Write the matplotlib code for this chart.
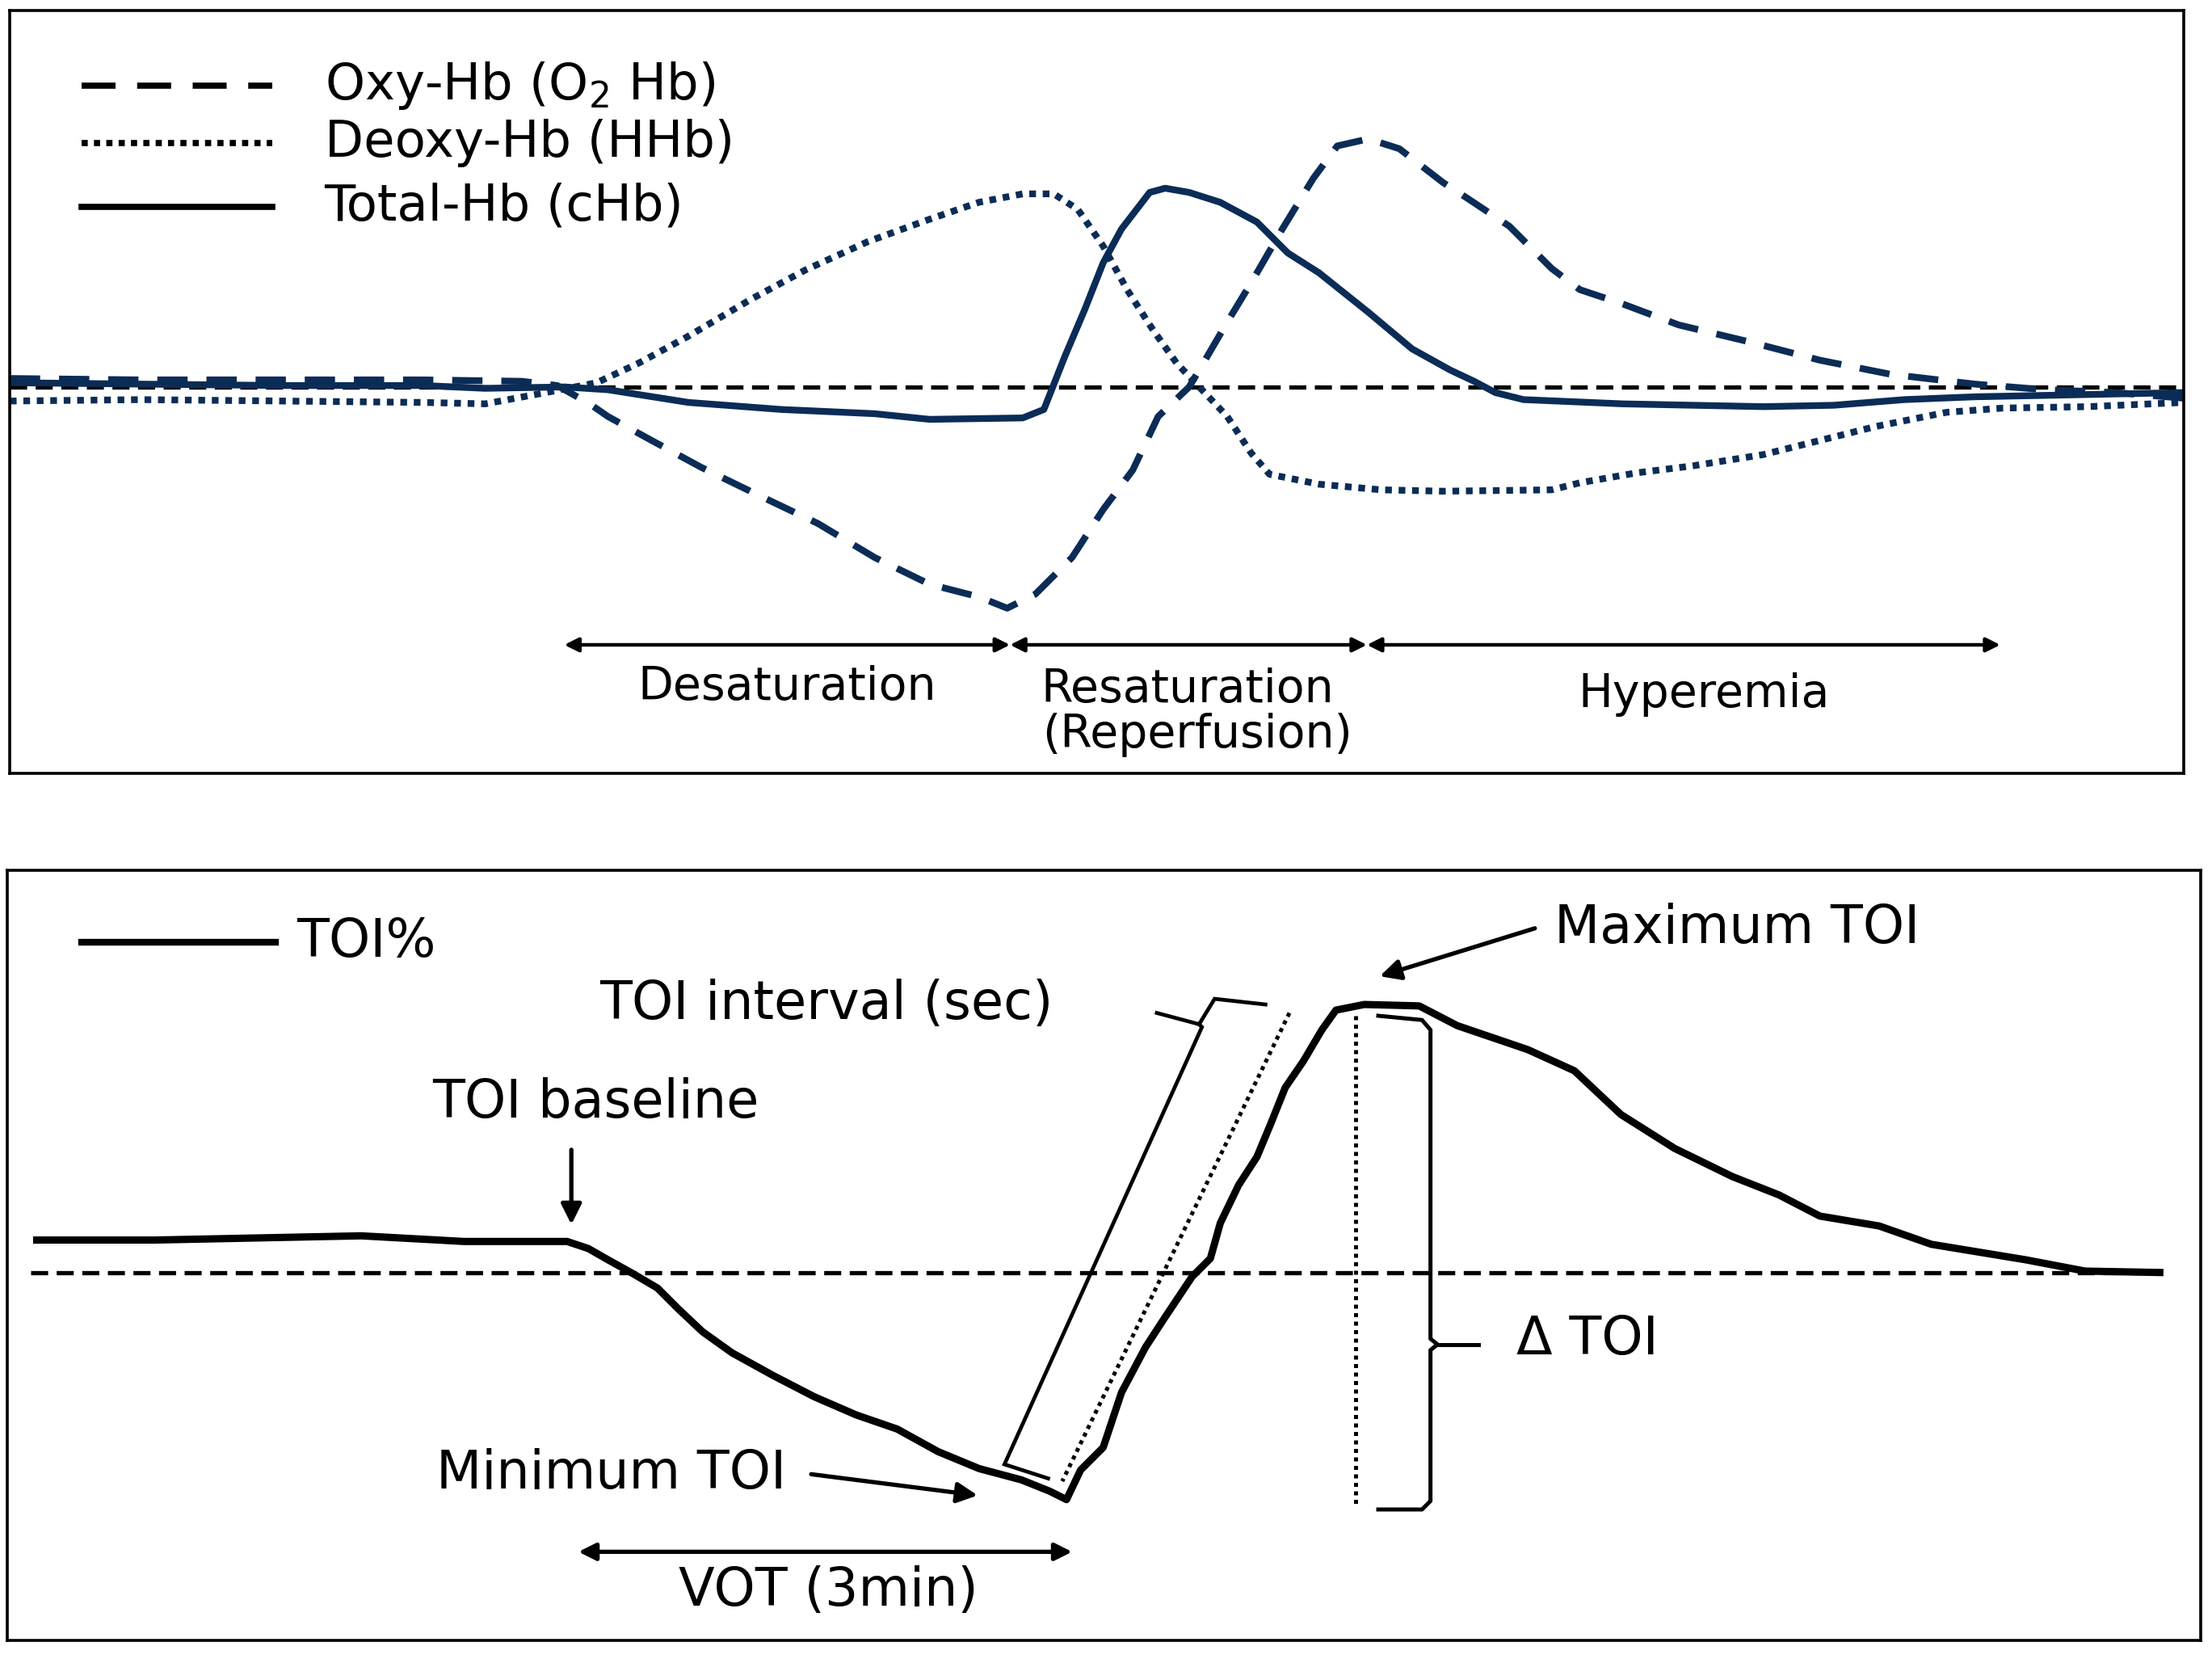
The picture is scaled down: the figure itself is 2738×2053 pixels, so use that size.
import matplotlib.pyplot as plt

plt.rcParams['font.family'] = ['DejaVu Sans']

NAVY = '#0b2c56'

# ---- top panel: haemoglobin signals (time in s, arbitrary units) ----
oxy_t = [3.5, 50, 100, 150, 185, 197.5, 209, 215.5, 231, 248.5, 268, 290, 310, 329.5, 347, 357,
         367, 380, 391, 401.5, 410.5, 421.5, 428, 435, 443.5, 454.5, 465.5, 474, 485, 496, 511.5,
         520, 535, 550, 560, 575, 595, 620, 645, 670, 700, 725, 750, 774]
oxy_v = [0.6, 0.5, 0.5, 0.5, 0.4, 0.1, -1.2, -2.1, -3.8, -5.7, -7.6, -9.7, -12.1, -14.0, -14.9, -15.7,
         -14.7, -12.1, -8.7, -5.9, -2.1, 0.0, 2.2, 4.6, 7.4, 11.2, 14.8, 17.1, 17.6, 16.9, 14.5,
         13.4, 11.4, 8.4, 6.9, 5.9, 4.4, 3.2, 1.9, 0.9, 0.2, -0.2, -0.4, -0.8]

deoxy_t = [3.5, 50, 100, 150, 172, 193.5, 211.5, 226.5, 244, 266, 285.5, 307.5, 329.5, 347, 362.5,
           373.5, 382, 391, 399.5, 408.5, 417, 426, 435, 443.5, 450, 467.5, 489.5, 511.5, 550, 560,
           580, 600, 625, 645, 665, 690, 710, 740, 774]
deoxy_v = [-1.0, -0.9, -1.0, -1.1, -1.2, -0.4, 0.3, 1.7, 3.6, 6.2, 8.3, 10.3, 11.9, 13.1, 13.7,
           13.7, 12.6, 10.0, 6.9, 4.1, 1.7, -0.2, -2.1, -4.7, -6.2, -6.9, -7.3, -7.4, -7.3, -6.8,
           -6.1, -5.6, -4.8, -3.8, -2.8, -1.8, -1.5, -1.4, -1.1]

total_t = [3.5, 50, 100, 150, 172, 200, 215.5, 244, 277, 310, 329.5, 362.5, 370, 377.5, 384.5, 391,
           397.5, 407.5, 413, 421.5, 432.5, 445.5, 456.5, 467.5, 485, 500.5, 514, 522.5, 530, 540,
           575, 625, 650, 675, 700, 725, 774]
total_v = [0.3, 0.2, 0.1, 0.1, -0.1, 0.0, -0.2, -1.1, -1.6, -1.9, -2.3, -2.2, -1.6, 2.2, 5.5, 8.8,
           11.2, 13.8, 14.1, 13.8, 13.1, 11.7, 9.5, 8.1, 5.3, 2.7, 1.2, 0.4, -0.4, -0.9,
           -1.2, -1.4, -1.3, -0.9, -0.7, -0.6, -0.4]

top_labels = ['Oxy-Hb (O$_2$ Hb)', 'Deoxy-Hb (HHb)', 'Total-Hb (cHb)']
phase_edges = [200, 358, 484.5, 709]

# ---- bottom panel: TOI % ----
toi_t = [13, 54.5, 128, 164.5, 201, 208.5, 215.5, 224.5, 233, 240.5, 249, 259.5, 274, 288.5, 303.5,
         318, 332.5, 347, 362, 372, 378, 383, 391, 397.5, 406, 412.5, 422.5, 429, 432.5, 439,
         445.5, 450.5, 455.5, 462, 468.5, 473.5, 483.5, 503, 516.5, 541.5, 558, 574.5, 593.5, 614,
         630.5, 645, 666, 684.5, 718, 739, 765.5]
toi_v = [72.3, 72.3, 72.6, 72.2, 72.2, 71.7, 70.9, 69.9, 68.9, 67.4, 65.8, 64.3, 62.7, 61.2, 59.9,
         58.9, 57.3, 56.1, 55.3, 54.5, 53.9, 56.0, 57.6, 61.5, 64.7, 66.7, 69.7, 71.0, 73.5, 76.2,
         78.2, 80.6, 83.1, 85.0, 87.2, 88.6, 89.0, 88.9, 87.5, 85.8, 84.3, 81.2, 78.8, 76.8,
         75.5, 74.0, 73.3, 72.0, 70.9, 70.1, 70.0]
toi_base = 70.0

fig = plt.figure(figsize=(27.38, 20.53), dpi=100)

# ================= top panel =================
ax1 = fig.add_axes([0.00446, 0.534, 0.98274, 0.45959])
ax1.set_xlim(3.5, 774)
ax1.set_ylim(-27.4, 26.7)
ax1.set_xticks([])
ax1.set_yticks([])
for s in ax1.spines.values():
    s.set_linewidth(2.6)

ax1.axhline(0, color='black', lw=3.8, dashes=(4, 2))
ax1.plot(oxy_t, oxy_v, color=NAVY, lw=6, dashes=(4.5, 2.8))
ax1.plot(deoxy_t, deoxy_v, color=NAVY, lw=6, dashes=(1, 1))
ax1.plot(total_t, total_v, color=NAVY, lw=6)

# legend drawn by hand
leg_y = [21.4, 17.3, 12.8]
leg_style = [dict(dashes=(5.5, 3.5)), dict(dashes=(1, 1)), dict()]
for y, lab, st in zip(leg_y, top_labels, leg_style):
    ax1.plot([29, 96.5], [y, y], color='black', lw=5.5, **st)
    ax1.text(115, y, lab, fontsize=45, va='center', ha='left')

for a, b in zip(phase_edges[:-1], phase_edges[1:]):
    ax1.annotate('', xy=(a, -18.3), xytext=(b, -18.3),
                 arrowprops=dict(arrowstyle='<|-|>', color='black', lw=3.2,
                                 mutation_scale=26, shrinkA=0, shrinkB=0))
ax1.text(279, -21.3, 'Desaturation', fontsize=41, ha='center', va='center')
ax1.text(421, -21.5, 'Resaturation', fontsize=41, ha='center', va='center')
ax1.text(424.5, -24.7, '(Reperfusion)', fontsize=41, ha='center', va='center')
ax1.text(604, -21.8, 'Hyperemia', fontsize=41, ha='center', va='center')

# ================= bottom panel =================
ax2 = fig.add_axes([0.0032, 0.01105, 0.9917, 0.46425])
ax2.set_xlim(2.5, 780)
ax2.set_ylim(43.9, 98.5)
ax2.set_xticks([])
ax2.set_yticks([])
for s in ax2.spines.values():
    s.set_linewidth(2.6)

ax2.plot([11, 766], [toi_base, toi_base], color='black', lw=3.8, dashes=(4, 2))
ax2.plot(toi_t, toi_v, color='black', lw=6.5, solid_joinstyle='round')

# legend
ax2.plot([29, 97.5], [93.4, 93.4], color='black', lw=6)
ax2.text(105, 93.4, 'TOI%', fontsize=47, va='center', ha='left')

# maximum TOI
ax2.text(551, 94.4, 'Maximum TOI', fontsize=47, va='center', ha='left')
ax2.annotate('', xy=(489, 91.0), xytext=(544, 94.4),
             arrowprops=dict(arrowstyle='-|>', color='black', lw=3.8,
                             mutation_scale=38, shrinkA=0, shrinkB=0))

# TOI interval bracket (tilted)
ax2.text(212.5, 89.0, 'TOI interval (sec)', fontsize=47, va='center', ha='left')
br_t = [371.5, 356, 426, 425, 430.5, 448.5]
br_v = [55.4, 56.4, 87.4, 87.6, 89.4, 89.0]
ax2.plot(br_t, br_v, color='black', lw=3.4, solid_joinstyle='miter')
ax2.plot([425, 410], [87.6, 88.4], color='black', lw=3.4)
ax2.plot([457, 376.5], [88.4, 55.2], color='black', lw=3.6, dashes=(1, 1.1))

# delta TOI bracket
ax2.plot([480.5, 480.5], [88.2, 53.5], color='black', lw=3.6, dashes=(1, 1.1))
rb_t = [488.5, 504, 507, 507, 509.5, 507, 507, 504, 488.5]
rb_v = [88.2, 87.9, 87.2, 65.3, 64.9, 64.5, 53.8, 53.2, 53.2]
ax2.plot(rb_t, rb_v, color='black', lw=3.6, solid_joinstyle='round')
ax2.plot([509.5, 524], [64.9, 64.9], color='black', lw=3.6)
ax2.text(537.5, 65.2, '\u0394 TOI', fontsize=47, va='center', ha='left')

# baseline
ax2.text(211, 82.0, 'TOI baseline', fontsize=47, va='center', ha='center')
ax2.annotate('', xy=(202.5, 73.4), xytext=(202.5, 78.7),
             arrowprops=dict(arrowstyle='-|>', color='black', lw=3.8,
                             mutation_scale=38, shrinkA=0, shrinkB=0))

# minimum TOI
ax2.text(278.5, 55.7, 'Minimum TOI', fontsize=47, va='center', ha='right')
ax2.annotate('', xy=(346.5, 54.2), xytext=(287.5, 55.7),
             arrowprops=dict(arrowstyle='-|>', color='black', lw=3.8,
                             mutation_scale=38, shrinkA=0, shrinkB=0))

# VOT
ax2.annotate('', xy=(205, 50.2), xytext=(380, 50.2),
             arrowprops=dict(arrowstyle='<|-|>', color='black', lw=3.8,
                             mutation_scale=32, shrinkA=0, shrinkB=0))
ax2.text(293.5, 47.4, 'VOT (3min)', fontsize=47, va='center', ha='center')

fig.savefig('out.png', dpi=100, facecolor='white')
